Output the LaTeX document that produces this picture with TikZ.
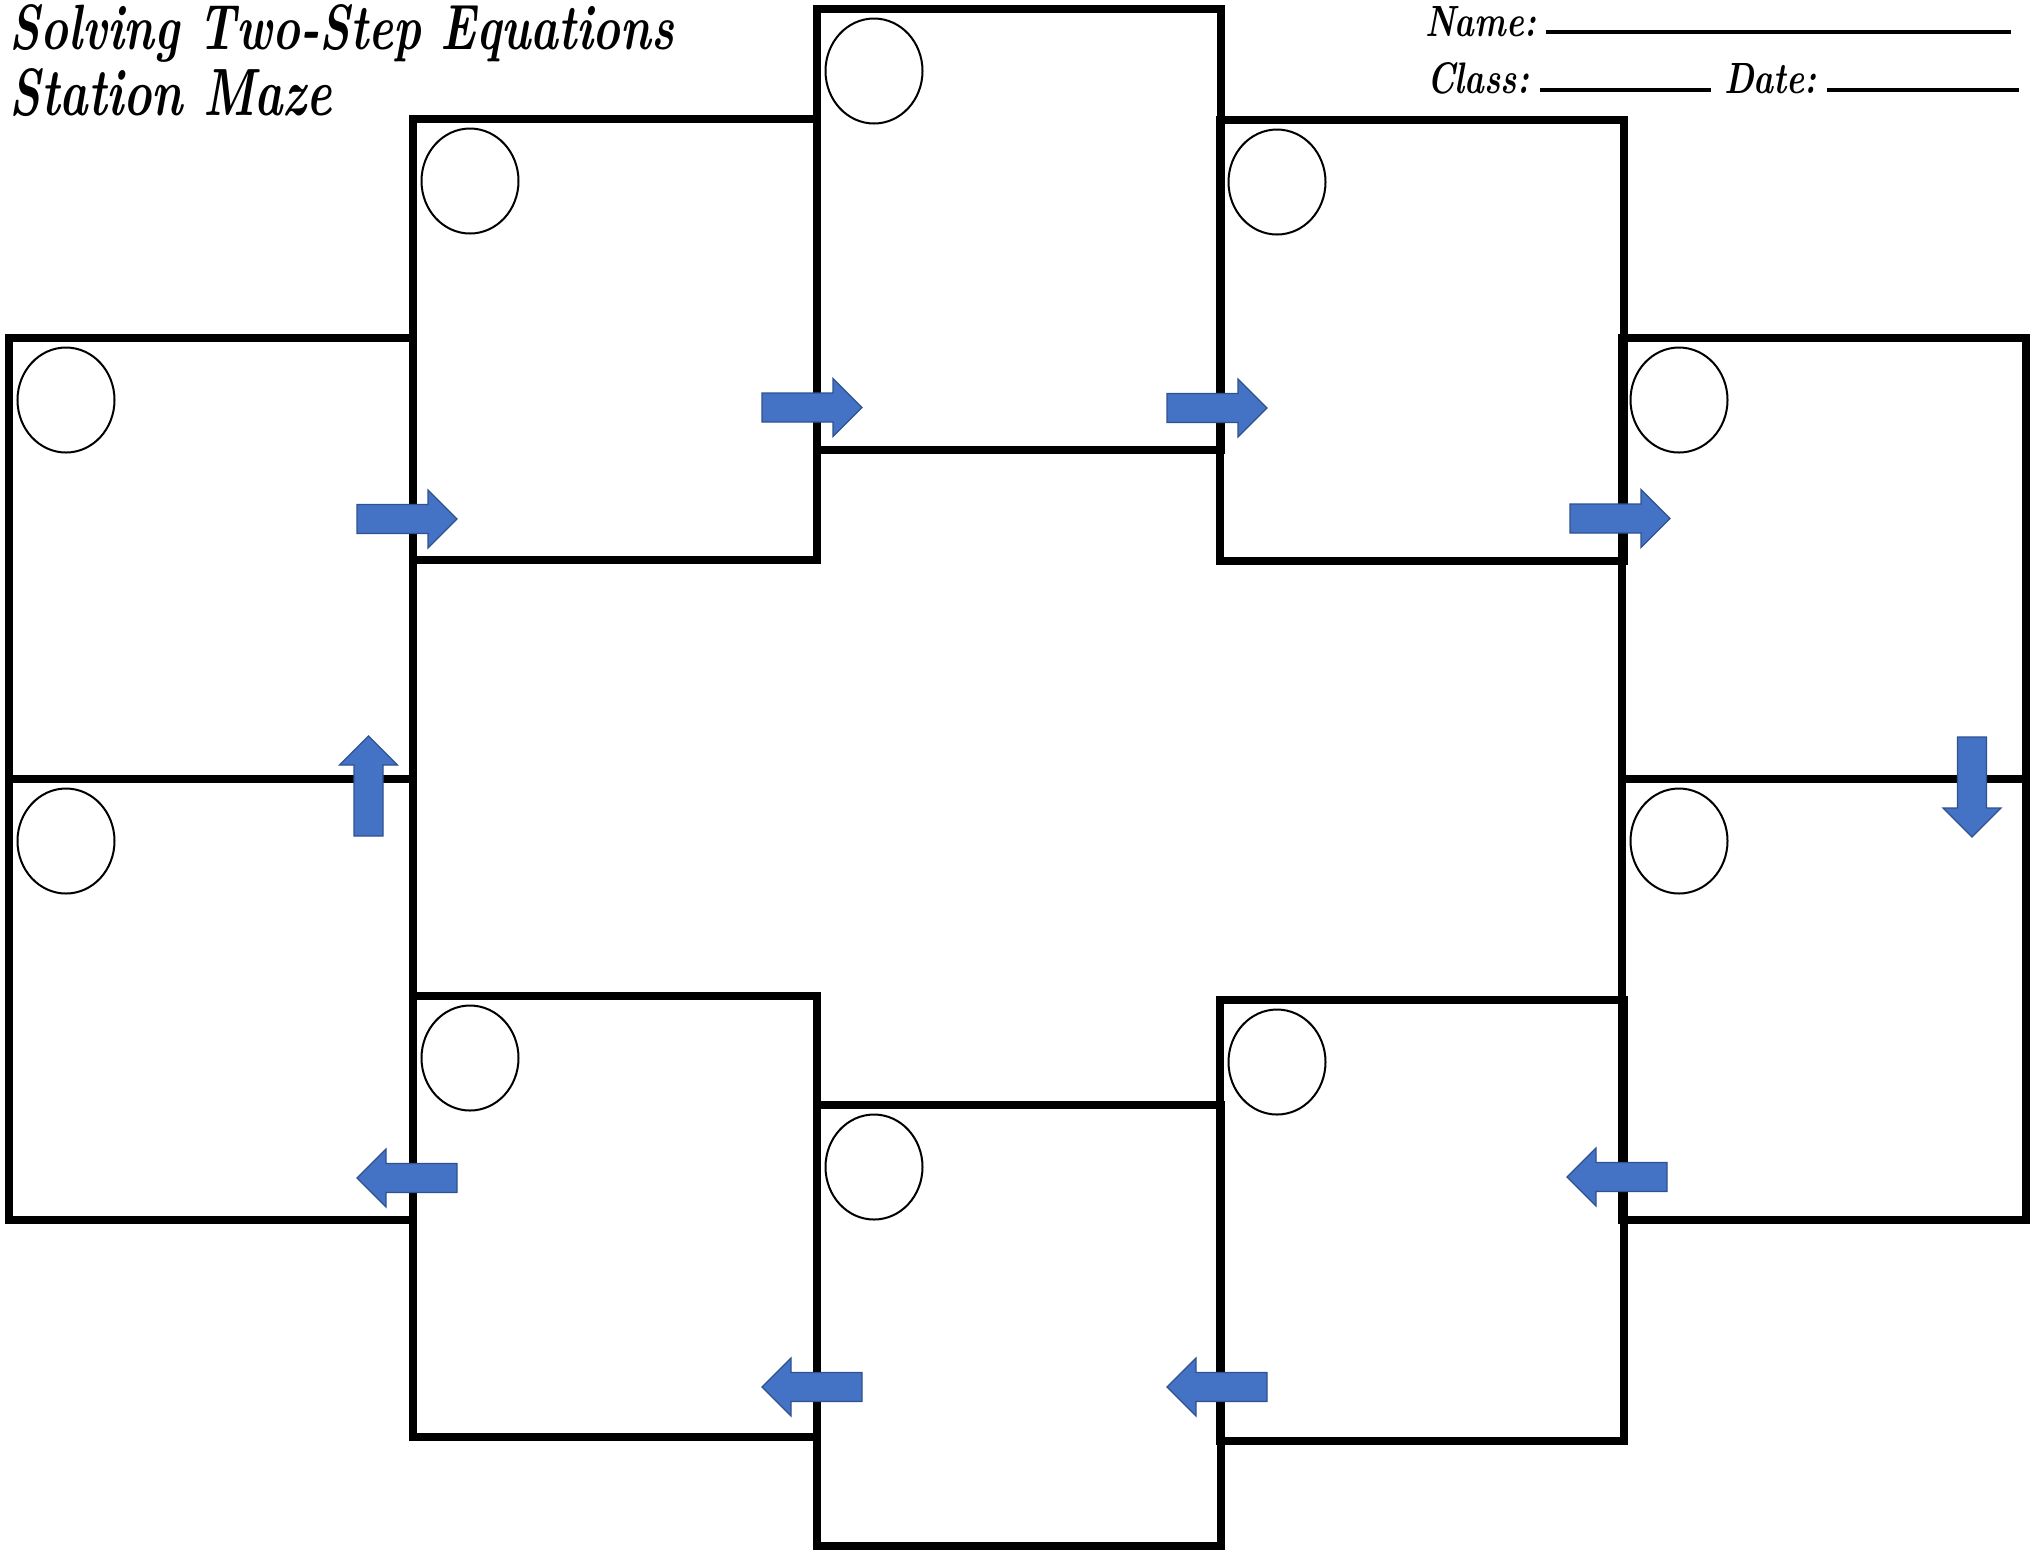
\documentclass[tikz,border=0pt]{standalone}
\usepackage{graphicx}
\usetikzlibrary{shapes.geometric,calc}
\definecolor{arrowfill}{HTML}{4472C4}
\definecolor{arrowedge}{HTML}{2F528F}
\begin{document}
\begin{tikzpicture}[x=0.5pt,y=-0.5pt,
  box/.style={draw=black, line width=4pt, rectangle, minimum width=202pt, minimum height=220.5pt, inner sep=0pt, outer sep=0pt, anchor=north west},
  spot/.style={draw=black, line width=1pt, ellipse, minimum width=48.5pt, minimum height=52.5pt, inner sep=0pt, outer sep=0pt},
  blockarrow/.pic={\draw[draw=arrowedge, fill=arrowfill, line width=0.6pt, line join=miter] (-50,-14.5) -- (21,-14.5) -- (21,-29) -- (50,0) -- (21,29) -- (21,14.5) -- (-50,14.5) -- cycle;},
  txt/.style={inner sep=0pt, outer sep=0pt, anchor=base west, font=\fontsize{30}{36}\selectfont\bfseries\itshape},
  rule/.style={line width=2pt, line cap=butt}
]
\useasboundingbox (0,0) rectangle (2032,1549);
% boxes
\node[box] (L1) at (9,338) {};
\node[box] (L2) at (9,779) {};
\node[box] (T1) at (413,119) {};
\node[box] (T2) at (817,9) {};
\node[box] (T3) at (1220,120) {};
\node[box] (R1) at (1622,338) {};
\node[box] (R2) at (1622,779) {};
\node[box] (B3) at (1220,1000) {};
\node[box] (B2) at (817,1105) {};
\node[box] (B1) at (413,996) {};
% circles
\foreach \b in {L1,L2,T1,T2,T3,R1,R2,B3,B2,B1}{
  \node[spot] (c\b) at ($(\b.north west)+(57,62)$) {};
}
% arrows
\pic at (407,519) {blockarrow};
\pic at (812,407.5) {blockarrow};
\pic at (1217,408) {blockarrow};
\pic at (1620,518.5) {blockarrow};
\pic[rotate=-90] at (1972,787) {blockarrow};
\pic[rotate=180] at (1617,1177) {blockarrow};
\pic[rotate=180] at (1217,1387) {blockarrow};
\pic[rotate=180] at (812,1387) {blockarrow};
\pic[rotate=180] at (407,1178) {blockarrow};
\pic[rotate=90] at (368.5,786) {blockarrow};
% title
\node[txt] (title1) at (10,49) {\resizebox{332pt}{22.5pt}{Solving Two-Step Equations}};
\node[txt] (title2) at (10,115) {\resizebox{161pt}{23.5pt}{Station Maze}};
% name / class / date
\node[txt] (name) at (1425,36) {\resizebox{55.5pt}{15pt}{Name:}};
\node[txt] (class) at (1427,93) {\resizebox{51pt}{15.5pt}{Class:}};
\node[txt] (date) at (1724,93) {\resizebox{46.5pt}{15pt}{Date:}};
\draw[rule] (1546,32) -- (2011,32);
\draw[rule] (1540,90) -- (1711,90);
\draw[rule] (1827,90) -- (2019,90);
\end{tikzpicture}
\end{document}
